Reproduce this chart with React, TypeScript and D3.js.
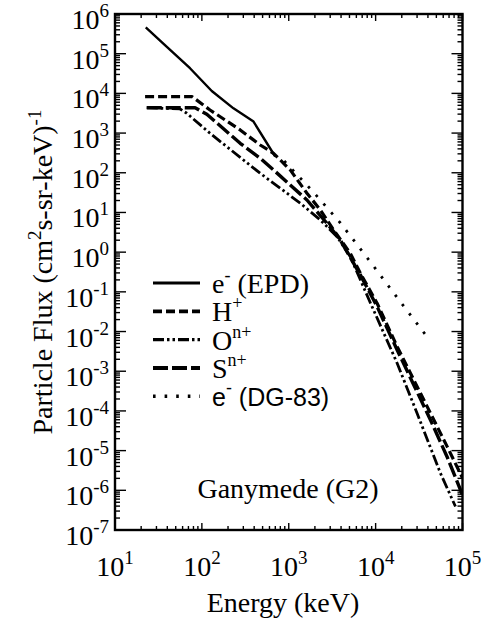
import React from "react";
import * as d3 from "d3";

// ---- data ----
const epdEnergy = [22.6, 36, 73, 130, 231, 393, 698];
const epdFlux = [4.6e5, 1.8e5, 4.3e4, 1.15e4, 4.2e3, 1.95e3, 257];

const hEnergy = [22.2, 77.3, 124, 276, 469, 668, 1040, 1620, 2310, 3280, 5110, 6670, 10400, 17700, 27500, 42800, 66600, 100000];
const hFlux = [8260, 8260, 3820, 1200, 501, 310, 118, 30.5, 11.6, 3.62, 0.94, 0.294, 0.0516, 4.17e-3, 6.04e-4, 8.75e-5, 1.26e-5, 2.05e-6];

const oEnergy = [23.2, 56.1, 67.1, 124, 301, 469, 798, 1360, 2310, 3600, 5110, 8710, 17700, 30000, 55700, 83000];
const oFlux = [4360, 4050, 3150, 989, 210, 97, 40.7, 17.1, 6.47, 2.46, 0.771, 0.0525, 1.59e-3, 8.75e-5, 2.7e-6, 3.9e-7];

const sEnergy = [23.2, 83.6, 114, 276, 469, 668, 1040, 1620, 2750, 3920, 6670, 10400, 17700, 27500, 42800, 66600, 100000];
const sFlux = [4360, 4360, 2980, 553, 232, 118, 49.3, 20.6, 5.34, 2.03, 0.267, 0.0424, 3.44e-3, 4.52e-4, 5.93e-5, 6.93e-6, 7.66e-7];

const dgEnergy = [887, 1870, 3930, 8710, 19300, 38500];
const dgFlux = [198, 34.8, 5.44, 0.566, 0.0557, 7.75e-3];

const xTickExps = [1, 2, 3, 4, 5];
const yTickExps = [6, 5, 4, 3, 2, 1, 0, -1, -2, -3, -4, -5, -6, -7];

const legendLabels = [
  { base: "e", sup: "-", rest: " (EPD)", sans: false },
  { base: "H", sup: "+", rest: "", sans: false },
  { base: "O", sup: "n+", rest: "", sans: false },
  { base: "S", sup: "n+", rest: "", sans: false },
  { base: "e", sup: "-", rest: " (DG-83)", sans: true },
];

const SERIF =
  '"Liberation Serif", "DejaVu Serif", "Noto Serif", Tinos, "Nimbus Roman", "Nimbus Roman No9 L", FreeSerif, "Times New Roman", Times, serif';
const SANS = '"Liberation Sans", Arial, Helvetica, sans-serif';

export default function App() {
  const W = 491, H = 623;
  const left = 115, right = 462.5, top = 14, bottom = 530;
  const x = d3.scaleLog().domain([10, 1e5]).range([left, right]);
  const y = d3.scaleLog().domain([1e-7, 1e6]).range([bottom, top]);

  const line = d3
    .line<[number, number]>()
    .x((d) => x(d[0]))
    .y((d) => y(d[1]));

  const zip = (a: number[], b: number[]) => a.map((v, i) => [v, b[i]] as [number, number]);

  const series = [
    { data: zip(epdEnergy, epdFlux), dash: "none", w: 2.4 },
    { data: zip(hEnergy, hFlux), dash: "9,4", w: 3.2 },
    { data: zip(oEnergy, oFlux), dash: "11,3,2.5,3,2.5,3", w: 2.8 },
    { data: zip(sEnergy, sFlux), dash: "15,4", w: 3.4 },
    { data: zip(dgEnergy, dgFlux), dash: "2.6,9", w: 2.8 },
  ];

  const xMinor: number[] = [];
  for (let e = 1; e < 5; e++) for (let k = 2; k <= 9; k++) xMinor.push(k * Math.pow(10, e));
  const yMinor: number[] = [];
  for (let e = -7; e < 6; e++) for (let k = 2; k <= 9; k++) yMinor.push(k * Math.pow(10, e));

  const legendX0 = 153, legendX1 = 200, legendTextX = 212;
  const legendY0 = 283, legendDY = 28.3;

  const serif = { fontFamily: SERIF };
  const sans = { fontFamily: SANS };

  return (
    <svg width={W} height={H} style={{ position: "absolute", left: 0, top: 0, background: "#fff" }}>
      <rect x={0} y={0} width={W} height={H} fill="#fff" />
      <defs>
        <clipPath id="plotclip">
          <rect x={left} y={top} width={right - left} height={bottom - top} />
        </clipPath>
      </defs>

      <g stroke="#000" strokeWidth={1.4}>
        {xTickExps.map((e) => {
          const px = x(Math.pow(10, e));
          return (
            <g key={"xt" + e}>
              <line x1={px} x2={px} y1={bottom} y2={bottom - 7} />
              <line x1={px} x2={px} y1={top} y2={top + 7} />
            </g>
          );
        })}
        {xMinor.map((v, i) => {
          const px = x(v);
          return (
            <g key={"xm" + i}>
              <line x1={px} x2={px} y1={bottom} y2={bottom - 4} />
              <line x1={px} x2={px} y1={top} y2={top + 4} />
            </g>
          );
        })}
        {yTickExps.map((e) => {
          const py = y(Math.pow(10, e));
          return (
            <g key={"yt" + e}>
              <line x1={left} x2={left + 11} y1={py} y2={py} />
              <line x1={right} x2={right - 11} y1={py} y2={py} />
            </g>
          );
        })}
        {yMinor.map((v, i) => {
          const py = y(v);
          return (
            <g key={"ym" + i}>
              <line x1={left} x2={left + 5} y1={py} y2={py} />
              <line x1={right} x2={right - 5} y1={py} y2={py} />
            </g>
          );
        })}
      </g>

      <g clipPath="url(#plotclip)" fill="none" stroke="#000">
        {series.map((s, i) => (
          <path
            key={"s" + i}
            d={line(s.data) || ""}
            strokeWidth={s.w}
            strokeDasharray={s.dash}
            strokeLinejoin="round"
          />
        ))}
      </g>

      <rect x={left} y={top} width={right - left} height={bottom - top} fill="none" stroke="#000" strokeWidth={2.4} />

      <g style={serif} fontSize={28} fill="#000">
        {yTickExps.map((e) => {
          const py = y(Math.pow(10, e));
          return (
            <text key={"yl" + e} x={109} y={py + 15} textAnchor="end" style={serif}>
              <tspan>10</tspan>
              <tspan dy={-12} fontSize={19}>{String(e)}</tspan>
            </text>
          );
        })}
        {xTickExps.map((e) => {
          const px = x(Math.pow(10, e));
          return (
            <text key={"xl" + e} x={px} y={576} textAnchor="middle" style={serif}>
              <tspan>10</tspan>
              <tspan dy={-12} fontSize={19}>{String(e)}</tspan>
            </text>
          );
        })}
      </g>

      <text x={283} y={612} textAnchor="middle" style={serif} fontSize={28}>
        Energy (keV)
      </text>
      <text transform={`translate(52, 272) rotate(-90)`} textAnchor="middle" style={serif} fontSize={28}>
        <tspan>Particle Flux (cm</tspan>
        <tspan dy={-11} fontSize={19}>2</tspan>
        <tspan dy={11}>s-sr-keV)</tspan>
        <tspan dy={-11} fontSize={19}>-1</tspan>
      </text>

      <g>
        {legendLabels.map((l, i) => {
          const ly = legendY0 + i * legendDY;
          const s = series[i];
          return (
            <g key={"lg" + i}>
              <line x1={legendX0} x2={legendX1} y1={ly} y2={ly} stroke="#000" strokeWidth={s.w + 0.6} strokeDasharray={s.dash} />
              <text x={legendTextX} y={ly + 10} style={l.sans ? sans : serif} fontSize={l.sans ? 25 : 28}>
                <tspan>{l.base}</tspan>
                <tspan dy={-12} fontSize={18}>{l.sup}</tspan>
                {l.rest ? <tspan dy={12}>{l.rest}</tspan> : null}
              </text>
            </g>
          );
        })}
      </g>

      <text x={288} y={498} textAnchor="middle" style={serif} fontSize={28}>
        Ganymede (G2)
      </text>
    </svg>
  );
}
